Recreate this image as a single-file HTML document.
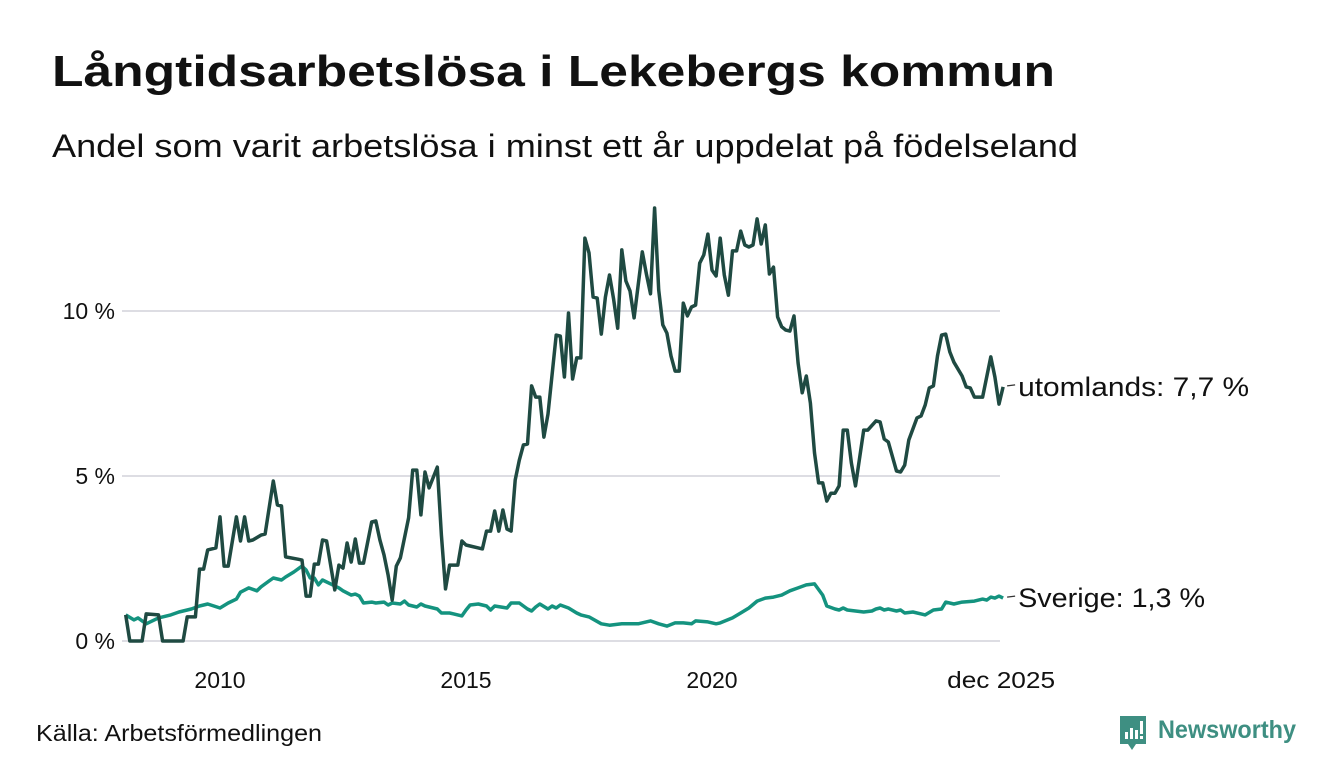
<!DOCTYPE html>
<html><head><meta charset="utf-8"><style>
html,body{margin:0;padding:0;background:#fff;}
svg{display:block;font-family:"Liberation Sans",sans-serif;}
</style></head><body>
<svg id="chart" width="1340" height="780" viewBox="0 0 1340 780" xmlns="http://www.w3.org/2000/svg">
<rect width="1340" height="780" fill="#fff"/>
<text x="52" y="86" font-size="44" font-weight="bold" fill="#111" textLength="1003" lengthAdjust="spacingAndGlyphs">Långtidsarbetslösa i Lekebergs kommun</text>
<text x="52" y="157" font-size="32" fill="#111" textLength="1026" lengthAdjust="spacingAndGlyphs">Andel som varit arbetslösa i minst ett år uppdelat på födelseland</text>
<g id="grid"></g>
<g id="yaxis"></g>
<g id="xaxis"></g>
<g id="series"></g>
<text x="36" y="741" font-size="23" fill="#111" textLength="286" lengthAdjust="spacingAndGlyphs">Källa: Arbetsförmedlingen</text>
<g>
<path d="M1120 716 h26 v28 h-10 l-4 6 l-4 -6 h-8 z" fill="#3e8f82"/>
<rect x="1125" y="732" width="3" height="7" fill="#fff"/><rect x="1130" y="728" width="3" height="11" fill="#fff"/><rect x="1135" y="730" width="3" height="9" fill="#fff"/><rect x="1140" y="721" width="3" height="13" fill="#fff"/><rect x="1140" y="736" width="3" height="3" fill="#fff"/>
<text x="1158" y="738" font-size="25" font-weight="bold" fill="#3e8f82" textLength="138" lengthAdjust="spacingAndGlyphs">Newsworthy</text>
</g>
</svg>
<script>
// months since Jan 2008
const utoMonths=[1,2,5,6,9,10,15,16,18,19,20,21,23,24,25,26,28,29,30,31,32,34,35,37,38,39,40,43,44,45,46,47,48,49,50,52,53,54,55,56,57,58,59,61,62,63,64,65,66,67,68,70,71,72,73,74,75,77,78,79,80,82,83,84,85,87,88,89,90,91,92,93,94,95,96,97,98,99,100,101,102,103,104,106,107,108,109,110,111,112,113,114,115,116,117,118,119,120,121,122,123,124,125,126,127,128,129,130,131,132,133,134,135,136,137,138,139,140,141,142,143,144,145,146,147,148,149,150,151,152,153,154,155,156,157,158,159,160,161,162,163,164,165,166,167,168,169,170,171,172,173,174,175,176,177,178,179,181,182,184,185,186,187,189,190,191,192,194,195,196,197,198,199,200,201,202,203,205,206,207,208,209,210,212,213,214,215];
const utoValues=[0.79,0,0,0.82,0.79,0,0,0.73,0.73,2.18,2.18,2.76,2.82,3.76,2.27,2.27,3.76,3.03,3.76,3.03,3.06,3.21,3.24,4.85,4.12,4.09,2.55,2.48,2.45,1.36,1.36,2.33,2.33,3.06,3.03,1.55,2.30,2.21,2.97,2.39,3.09,2.36,2.36,3.61,3.64,3.06,2.61,2.0,1.24,2.27,2.52,3.73,5.18,5.18,3.82,5.12,4.64,5.27,3.21,1.58,2.30,2.30,3.03,2.91,2.88,2.82,2.79,3.33,3.33,3.94,3.33,3.97,3.39,3.33,4.88,5.48,5.94,5.97,7.73,7.39,7.39,6.18,6.88,9.27,9.24,8.0,9.94,7.94,8.58,8.58,12.21,11.76,10.42,10.39,9.30,10.42,11.09,10.36,9.48,11.85,10.91,10.61,9.79,10.79,11.79,11.12,10.52,13.12,10.64,9.58,9.33,8.64,8.18,8.18,10.24,9.85,10.12,10.18,11.45,11.70,12.33,11.24,11.06,12.21,11.09,10.48,11.82,11.82,12.42,12.0,11.94,12.0,12.79,12.03,12.61,11.12,11.33,9.82,9.52,9.42,9.39,9.85,8.42,7.52,8.03,7.21,5.70,4.79,4.79,4.24,4.48,4.48,4.70,6.39,6.39,5.39,4.70,6.39,6.39,6.67,6.64,6.12,6.03,5.15,5.12,5.33,6.09,6.76,6.82,7.15,7.67,7.73,8.64,9.27,9.30,8.76,8.45,8.03,7.70,7.67,7.39,7.39,7.39,8.61,8.0,7.18,7.70];
const sveMonths=[1,3,4,6,9,12,14,17,19,21,24,26,28,29,31,33,34,36,37,39,40,42,44,45,46,47,48,49,51,53,54,56,57,58,59,61,62,64,65,66,68,69,70,72,73,74,77,78,80,81,83,84,85,87,89,90,91,94,95,97,99,100,101,102,104,105,106,107,109,111,112,114,117,119,122,124,126,129,131,133,135,137,139,140,143,145,146,149,151,153,155,157,159,161,163,165,167,169,171,172,174,175,176,177,181,183,184,185,186,187,189,190,191,193,195,196,198,200,201,203,205,208,210,211,212,213,214,215];
const sveValues=[0.79,0.64,0.70,0.52,0.70,0.79,0.88,0.97,1.06,1.12,1.0,1.15,1.27,1.48,1.61,1.52,1.64,1.82,1.91,1.85,1.94,2.09,2.27,2.15,1.91,1.91,1.70,1.85,1.73,1.61,1.52,1.39,1.42,1.36,1.15,1.18,1.15,1.18,1.09,1.15,1.12,1.21,1.09,1.03,1.12,1.06,0.97,0.85,0.85,0.82,0.76,0.94,1.09,1.12,1.06,0.94,1.06,1.0,1.15,1.15,0.97,0.91,1.03,1.12,0.97,1.06,1.0,1.09,1.0,0.85,0.79,0.73,0.52,0.48,0.52,0.52,0.52,0.61,0.52,0.45,0.55,0.55,0.52,0.61,0.58,0.52,0.55,0.70,0.85,1.0,1.21,1.30,1.33,1.39,1.52,1.61,1.70,1.73,1.39,1.06,0.97,0.94,1.0,0.94,0.88,0.91,0.97,1.0,0.94,0.97,0.91,0.94,0.85,0.88,0.82,0.79,0.94,0.97,1.18,1.12,1.18,1.21,1.27,1.24,1.33,1.30,1.36,1.30];
const yTicks=[0,5,10];
const yTickLabels=["0 %","5 %","10 %"];
const xTickYears=[2010,2015,2020];
const lastLabel="dec 2025";
const seriesLabels=["utomlands: 7,7 %","Sverige: 1,3 %"];

const NS="http://www.w3.org/2000/svg";
const xScale=m=>121.6+m*(49.2/12);
const yScale=v=>641-v*33;
function mk(tag,attrs,parent,txt){const e=document.createElementNS(NS,tag);for(const k in attrs)e.setAttribute(k,attrs[k]);if(txt!==undefined)e.textContent=txt;parent.appendChild(e);return e;}
const grid=document.getElementById('grid'),yax=document.getElementById('yaxis'),xax=document.getElementById('xaxis'),ser=document.getElementById('series');
yTicks.forEach((t,i)=>{
  const l=mk('line',{x1:122,x2:1000,y1:yScale(t),y2:yScale(t),stroke:'#dddde3','stroke-width':2},grid);
  
  
  const tx=mk('text',{x:115,y:yScale(t)+8,'text-anchor':'end','font-size':23,fill:'#111'},yax,yTickLabels[i]);
  
  
});
xTickYears.forEach(y=>{
  const tx=mk('text',{x:xScale((y-2008)*12),y:688,'text-anchor':'middle','font-size':23,fill:'#111'},xax,String(y));
  
  
});
const lastM=utoMonths[utoMonths.length-1];
const lt=mk('text',{x:xScale(lastM)-2,y:688,'text-anchor':'middle','font-size':23,fill:'#111',textLength:108,lengthAdjust:'spacingAndGlyphs'},xax,lastLabel);


function drawSeries(months,vals,color,name,label,w){
  const d=months.map((m,i)=>(i?'L':'M')+xScale(m).toFixed(1)+' '+yScale(vals[i]).toFixed(1)).join(' ');
  const p=mk('path',{d:d,fill:'none',stroke:color,'stroke-width':3.5,'stroke-linejoin':'round'},ser);
  
  
  const ly=yScale(vals[vals.length-1]);
  const lx=xScale(months[months.length-1]);
  const dash=mk('line',{x1:lx+4,x2:lx+12,y1:ly-1,y2:ly-2,stroke:'#333','stroke-width':1.2},ser);
  
  
  const t=mk('text',{x:lx+15,y:ly+9,'font-size':27,fill:'#111',textLength:w,lengthAdjust:'spacingAndGlyphs'},ser,label);
  
  
}
drawSeries(sveMonths,sveValues,'#14937f','sverige',seriesLabels[1],187);
drawSeries(utoMonths,utoValues,'#1f4a42','utomlands',seriesLabels[0],231);
</script>
</body></html>
